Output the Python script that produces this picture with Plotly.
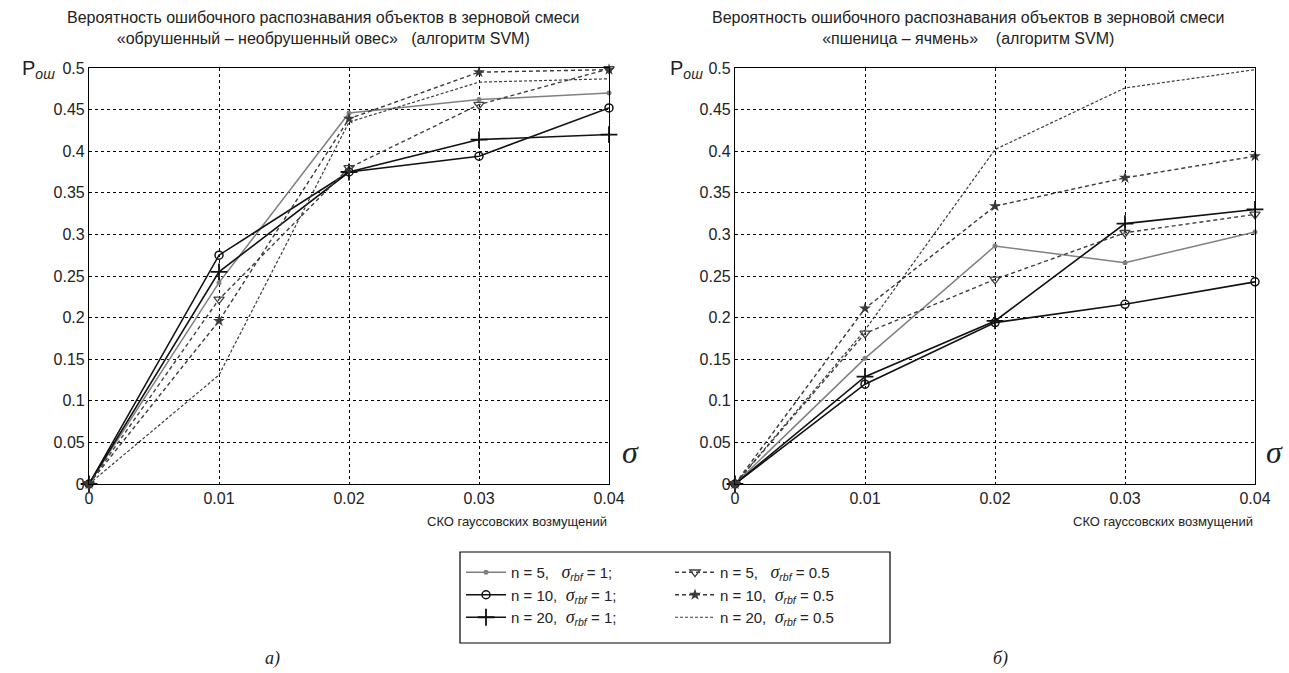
import plotly.graph_objects as go

sigma = [0, 0.01, 0.02, 0.03, 0.04]

# Left chart: "обрушенный – необрушенный овес"
a_n5_r1 = [0, 0.242, 0.446, 0.462, 0.470]
a_n10_r1 = [0, 0.275, 0.375, 0.394, 0.452]
a_n20_r1 = [0, 0.255, 0.375, 0.414, 0.420]
a_n5_r05 = [0, 0.222, 0.380, 0.456, 0.499]
a_n10_r05 = [0, 0.196, 0.439, 0.495, 0.498]
a_n20_r05 = [0, 0.131, 0.435, 0.483, 0.487]

# Right chart: "пшеница – ячмень"
b_n5_r1 = [0, 0.151, 0.286, 0.266, 0.303]
b_n10_r1 = [0, 0.120, 0.194, 0.216, 0.243]
b_n20_r1 = [0, 0.129, 0.196, 0.313, 0.330]
b_n5_r05 = [0, 0.181, 0.246, 0.302, 0.324]
b_n10_r05 = [0, 0.211, 0.334, 0.368, 0.394]
b_n20_r05 = [0, 0.185, 0.402, 0.476, 0.498]

y_ticks = [0, 0.05, 0.1, 0.15, 0.2, 0.25, 0.3, 0.35, 0.4, 0.45, 0.5]
y_ticktext = ["0", "0.05", "0.1", "0.15", "0.2", "0.25", "0.3", "0.35", "0.4", "0.45", "0.5"]
x_ticks = [0, 0.01, 0.02, 0.03, 0.04]
x_ticktext = ["0", "0.01", "0.02", "0.03", "0.04"]

SIG = "<span style=\"font-family:'Liberation Serif';font-size:18px\"><i>σ</i></span><sub><i>rbf</i></sub>"
labels = [
    "n = 5,   " + SIG + " = 1;",
    "n = 10,  " + SIG + " = 1;",
    "n = 20,  " + SIG + " = 1;",
    "n = 5,   " + SIG + " = 0.5",
    "n = 10,  " + SIG + " = 0.5",
    "n = 20,  " + SIG + " = 0.5",
]

styles = [
    dict(line=dict(color="#808080", width=1.5), marker=dict(symbol="circle", size=5, color="#808080")),
    dict(line=dict(color="#111111", width=1.6), marker=dict(symbol="circle-open", size=8, color="#111111", line=dict(width=1.5))),
    dict(line=dict(color="#111111", width=1.6), marker=dict(symbol="cross-thin-open", size=12, color="#111111", line=dict(width=1.8, color="#111111"))),
    dict(line=dict(color="#404040", width=1.4, dash="4px,3px"), marker=dict(symbol="triangle-down-open", size=9, color="#404040", line=dict(width=1.3))),
    dict(line=dict(color="#3a3a3a", width=1.4, dash="4px,3px"), marker=dict(symbol="star", size=9, color="#3a3a3a")),
    dict(line=dict(color="#3c3c3c", width=1.2, dash="3px,2px"), marker=dict(size=1, opacity=0)),
]

series_a = [a_n5_r1, a_n10_r1, a_n20_r1, a_n5_r05, a_n10_r05, a_n20_r05]
series_b = [b_n5_r1, b_n10_r1, b_n20_r1, b_n5_r05, b_n10_r05, b_n20_r05]

fig = go.Figure()
for i, (ya, st) in enumerate(zip(series_a, styles)):
    fig.add_trace(go.Scatter(
        x=sigma, y=ya, mode="lines+markers" if i < 5 else "lines",
        name=labels[i], legend="legend" if i < 3 else "legend2",
        xaxis="x", yaxis="y", cliponaxis=False, **st))
for i, (yb, st) in enumerate(zip(series_b, styles)):
    fig.add_trace(go.Scatter(
        x=sigma, y=yb, mode="lines+markers" if i < 5 else "lines",
        showlegend=False, xaxis="x2", yaxis="y2", cliponaxis=False, **st))

W, H = 1289, 673
def px(x):
    return x / W
def py(y):
    return (H - y) / H

ydom = [py(484), py(68)]
axis_common = dict(showline=True, linecolor="black", linewidth=1.2, mirror=True,
                   showgrid=True, gridcolor="black", griddash="3px,3px", gridwidth=1,
                   zeroline=False, ticks="", automargin=False,
                   tickfont=dict(family="Liberation Sans", size=16, color="#222"))

legend_font = dict(family="Liberation Sans", size=15, color="#222")
fig.update_layout(
    width=W, height=H,
    margin=dict(l=0, r=0, t=0, b=0),
    paper_bgcolor="white", plot_bgcolor="white",
    font=dict(family="Liberation Sans", size=15, color="#222"),
    xaxis=dict(domain=[px(89), px(609)], range=[0, 0.04], tickvals=x_ticks, ticktext=x_ticktext,
               anchor="y", **axis_common),
    yaxis=dict(domain=ydom, range=[0, 0.5], tickvals=y_ticks, ticktext=y_ticktext,
               anchor="x", **axis_common),
    xaxis2=dict(domain=[px(735), px(1255)], range=[0, 0.04], tickvals=x_ticks, ticktext=x_ticktext,
                anchor="y2", **axis_common),
    yaxis2=dict(domain=ydom, range=[0, 0.5], tickvals=y_ticks, ticktext=y_ticktext,
                anchor="x2", **axis_common),
    legend=dict(x=px(461), y=py(556), xanchor="left", yanchor="top",
                bgcolor="rgba(0,0,0,0)", borderwidth=0, font=legend_font,
                tracegroupgap=0, itemwidth=40),
    legend2=dict(x=px(670), y=py(556), xanchor="left", yanchor="top",
                 bgcolor="rgba(0,0,0,0)", borderwidth=0, font=legend_font,
                 tracegroupgap=0, itemwidth=40),
    shapes=[dict(type="rect", xref="paper", yref="paper",
                 x0=px(460), x1=px(890), y0=py(552), y1=py(643),
                 line=dict(color="black", width=1.2), fillcolor="rgba(0,0,0,0)")],
)

ann = []
titles = [
    (323, "Вероятность ошибочного распознавания объектов в зерновой смеси<br>«обрушенный – необрушенный овес»   (алгоритм SVM)"),
    (968, "Вероятность ошибочного распознавания объектов в зерновой смеси<br>«пшеница – ячмень»    (алгоритм SVM)"),
]
for cx, t in titles:
    ann.append(dict(x=px(cx), y=py(7), xref="paper", yref="paper", xanchor="center", yanchor="top",
                    text=t, showarrow=False, align="center",
                    font=dict(family="Liberation Sans", size=16, color="#222")))
for x0 in (20, 668):
    ann.append(dict(x=px(x0), y=py(70), xref="paper", yref="paper", xanchor="left", yanchor="middle",
                    text="P<sub><i>ош</i></sub>", showarrow=False,
                    font=dict(family="Liberation Sans", size=20, color="#222")))
for x0 in (630, 1274):
    ann.append(dict(x=px(x0), y=py(452), xref="paper", yref="paper", xanchor="center", yanchor="middle",
                    text="<i>σ</i>", showarrow=False,
                    font=dict(family="Liberation Serif", size=32, color="#222")))
for x0 in (609, 1255):
    ann.append(dict(x=px(x0), y=py(521), xref="paper", yref="paper", xanchor="right", yanchor="middle",
                    text="СКО гауссовских возмущений", showarrow=False,
                    font=dict(family="Liberation Sans", size=13, color="#222")))
ann.append(dict(x=px(272), y=py(658), xref="paper", yref="paper", xanchor="center", yanchor="middle",
                text="<i>а)</i>", showarrow=False,
                font=dict(family="Liberation Serif", size=18, color="#222")))
ann.append(dict(x=px(1000), y=py(658), xref="paper", yref="paper", xanchor="center", yanchor="middle",
                text="<i>б)</i>", showarrow=False,
                font=dict(family="Liberation Serif", size=18, color="#222")))
fig.update_layout(annotations=ann)

fig.write_html("out.html", config={"displayModeBar": False},
               post_script="document.body.style.margin='0';document.body.style.overflow='hidden';")
